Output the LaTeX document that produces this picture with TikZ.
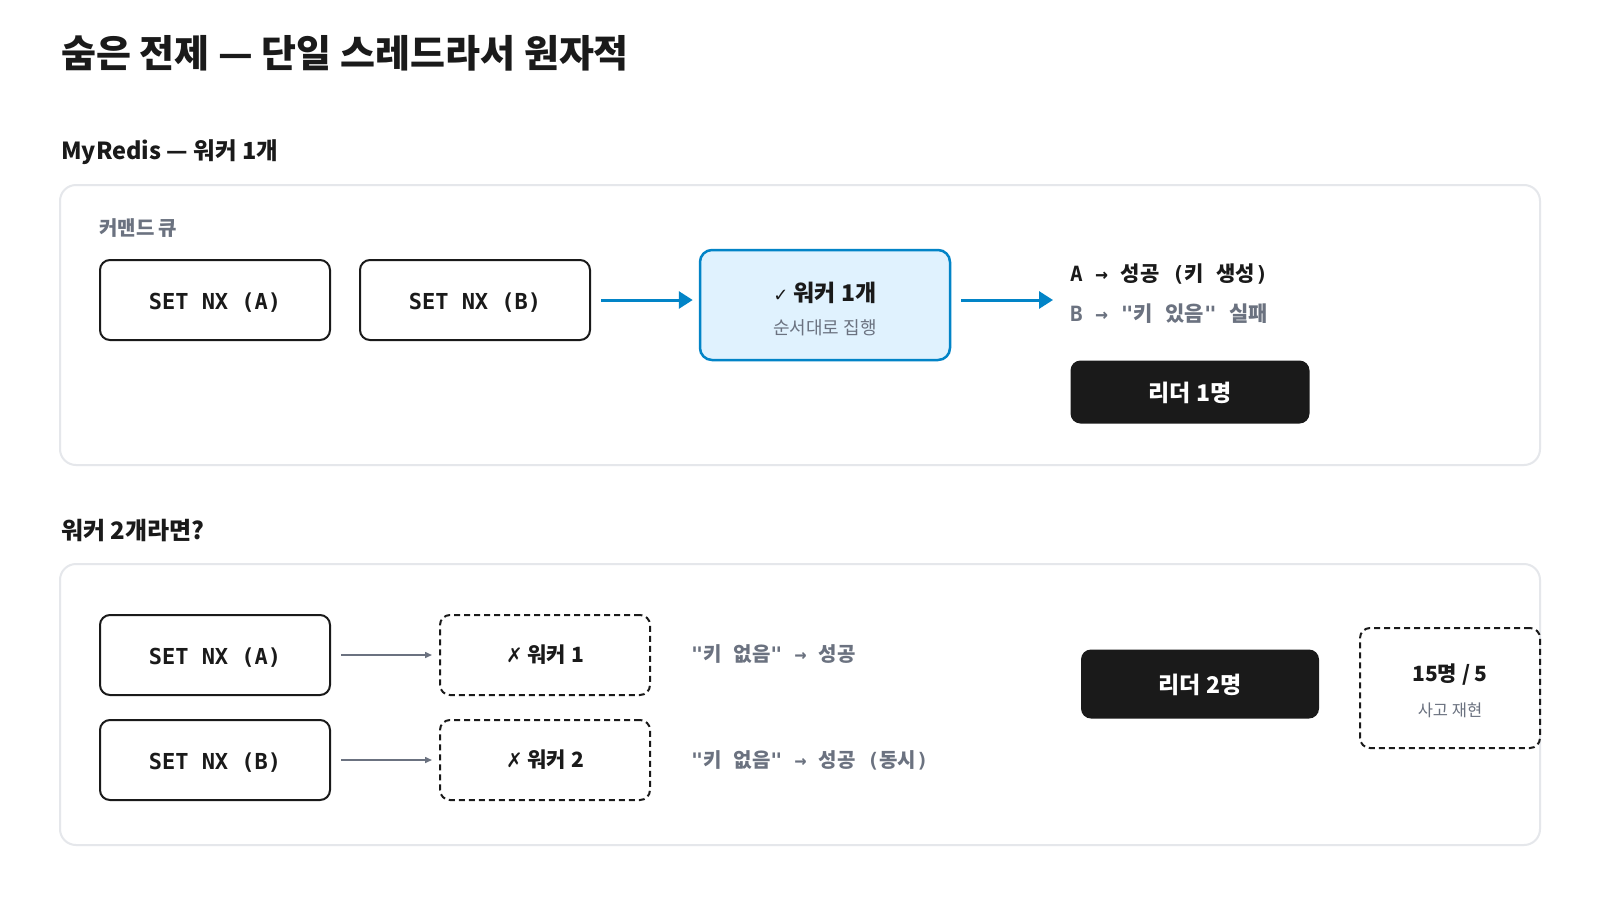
\documentclass[tikz,border=0pt]{standalone}
\usepackage{fontspec}
\setmainfont{Noto Sans CJK KR}
\newfontfamily\monof{DejaVu Sans Mono}
\newfontfamily\symf{DejaVu Sans}
\usetikzlibrary{arrows.meta}
\definecolor{ink}{HTML}{1A1A1A}
\definecolor{muted}{HTML}{6B7280}
\definecolor{panelgray}{HTML}{E5E7EB}
\definecolor{accent}{HTML}{0284C7}
\definecolor{lightblue}{HTML}{E0F2FE}
\newcommand\hg[1]{{\rmfamily#1}}
\newcommand\fs[1]{\fontsize{#1}{#1}\selectfont}
\begin{document}
\begin{tikzpicture}[x=1pt,y=-1pt,
  panel/.style={draw=panelgray, line width=2pt, rounded corners=16pt, minimum width=1480pt, minimum height=280pt, inner sep=0pt},
  cmdbox/.style={draw=ink, line width=2pt, rounded corners=10pt, minimum width=230pt, minimum height=80pt, inner sep=0pt, font=\monof\bfseries\fs{22}, text=ink, text height=18pt, text depth=0pt},
  dashbox/.style={draw=ink, line width=2pt, dash pattern=on 6pt off 4pt, rounded corners=10pt, inner sep=0pt, text=ink, align=center},
  darkbox/.style={fill=ink, rounded corners=10pt, inner sep=0pt, text=white, font=\bfseries\fs{23}, text height=19pt, text depth=0pt},
  heading/.style={anchor=west, inner sep=0pt, text=ink, font=\bfseries\fs{24}},
  monotext/.style={anchor=west, inner sep=0pt, font=\monof\bfseries\fs{20}},
  bluearrow/.style={draw=accent, line width=3pt, -{Triangle[length=14pt,width=17pt]}},
  grayarrow/.style={draw=muted, line width=1.5pt, -{Triangle[length=7pt,width=6pt]}}
]
\fill[white] (0,0) rectangle (1600,900);
\useasboundingbox (0,0) rectangle (1600,900);

% title
\node[heading, font=\bfseries\fs{38}] (title) at (61,53) {숨은 전제 — 단일 스레드라서 원자적};

% section 1
\node[heading, font=\bfseries\fs{23.5}] (sub1) at (61,152) {MyRedis — 워커 1개};
\node[panel] (p1) at (800,325) {};
\node[anchor=west, inner sep=0pt, text=muted, font=\bfseries\fs{20}] (queue) at (99,228) {커맨드 큐};
\node[cmdbox] (a1) at (215,300) {SET NX (A)};
\node[cmdbox] (b1) at (475,300) {SET NX (B)};
\node[draw=accent, line width=2.5pt, fill=lightblue, rounded corners=12pt, minimum width=250pt, minimum height=110pt, inner sep=0pt, align=center, text=ink] (w1) at (825,305)
  {\rule{0pt}{27pt}{\fs{23}\bfseries{\symf\fs{18}\mdseries ✓} 워커 1개}\\[15pt]{\fs{18}\color{muted}순서대로 집행}};
\coordinate (out1) at (1053,300);
\draw[bluearrow, shorten <=10pt, shorten >=6pt] (b1.east) -- (b1.east -| w1.west);
\draw[bluearrow, shorten <=10pt] (w1.east |- out1) -- (out1);
\node[monotext, text=ink, font=\monof\bfseries\fs{21}] (ra) at (1070,274) {A → \hg{성공} (\hg{키} \hg{생성})};
\node[monotext, text=muted, font=\monof\bfseries\fs{21}] (rb) at (1070,314) {B → "\hg{키} \hg{있음}" \hg{실패}};
\node[darkbox, minimum width=239pt, minimum height=63pt] (l1) at (1190,392) {리더 1명};

% section 2
\node[heading] (sub2) at (61,531) {워커 2개라면?};
\node[panel, minimum height=281pt] (p2) at (800,704.5) {};
\node[cmdbox] (a2) at (215,655) {SET NX (A)};
\node[cmdbox] (b2) at (215,760) {SET NX (B)};
\node[dashbox, minimum width=210pt, minimum height=80pt, font=\bfseries\fs{21}] (w21) at (545,655) {{\symf\fs{20}✗} 워커 1};
\node[dashbox, minimum width=210pt, minimum height=80pt, font=\bfseries\fs{21}] (w22) at (545,760) {{\symf\fs{20}✗} 워커 2};
\draw[grayarrow, shorten <=10pt, shorten >=7pt] (a2.east) -- (w21.west);
\draw[grayarrow, shorten <=10pt, shorten >=7pt] (b2.east) -- (w22.west);
\node[monotext, text=muted] (r21) at (691,654) {"\hg{키} \hg{없음}" → \hg{성공}};
\node[monotext, text=muted] (r22) at (691,760) {"\hg{키} \hg{없음}" → \hg{성공} (\hg{동시})};
\node[darkbox, minimum width=238pt, minimum height=69pt] (l2) at (1200,684) {리더 2명};
\node[dashbox, minimum width=180pt, minimum height=120pt] (case) at (1450,688)
  {\rule{0pt}{23pt}{\bfseries\fs{21}15명 / 5}\\[17pt]{\fs{16.5}\color{muted}사고 재현}};
\end{tikzpicture}
\end{document}
